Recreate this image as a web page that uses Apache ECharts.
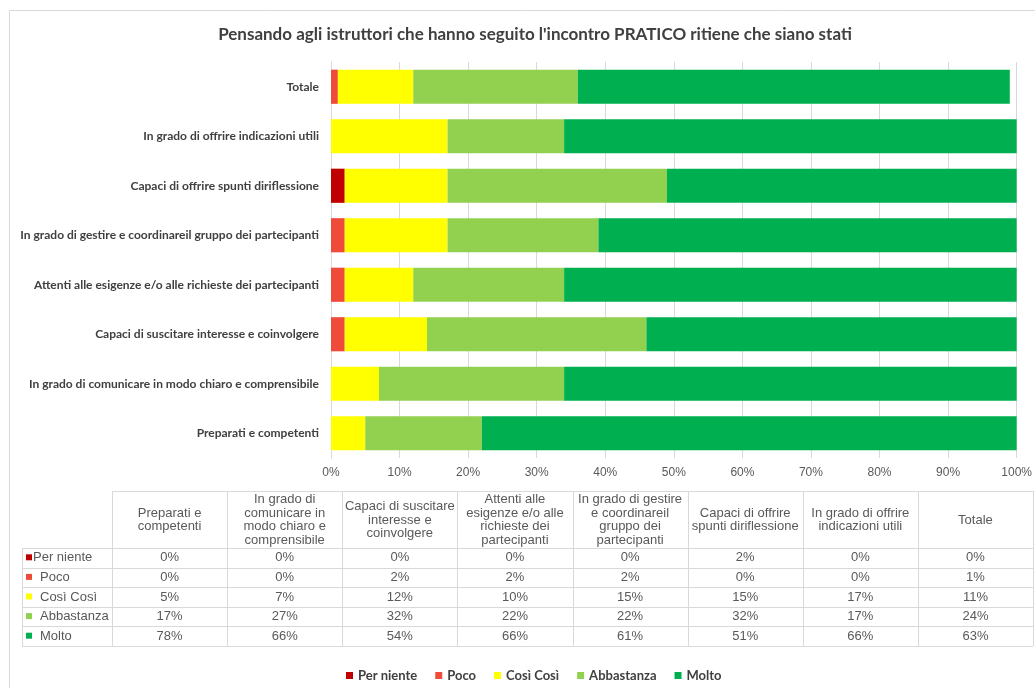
<!DOCTYPE html>
<html>
<head>
<meta charset="utf-8">
<script src="https://cdn.jsdelivr.net/npm/echarts@6/dist/echarts.min.js"></script>
<style>
  html, body { margin: 0; padding: 0; background: #ffffff; }
  #chart { width: 1035px; height: 688px; }
</style>
</head>
<body>
<div id="chart"></div>
<script>
// Categories, bottom to top on the chart, left to right in the table
const categories = [
  'Preparati e competenti',
  'In grado di comunicare in modo chiaro e comprensibile',
  'Capaci di suscitare interesse e coinvolgere',
  'Attenti alle esigenze e/o alle richieste dei partecipanti',
  'In grado di gestire e coordinareil gruppo dei partecipanti',
  'Capaci di offrire spunti diriflessione',
  'In grado di offrire indicazioni utili',
  'Totale'
];
// Wrapped column headings for the data table
const tableHeaders = [
  'Preparati e\ncompetenti',
  'In grado di\ncomunicare in\nmodo chiaro e\ncomprensibile',
  'Capaci di suscitare\ninteresse e\ncoinvolgere',
  'Attenti alle\nesigenze e/o alle\nrichieste dei\npartecipanti',
  'In grado di gestire\ne coordinareil\ngruppo dei\npartecipanti',
  'Capaci di offrire\nspunti diriflessione',
  'In grado di offrire\nindicazioni utili',
  'Totale'
];
const seriesNames = ['Per niente', 'Poco', 'Così Così', 'Abbastanza', 'Molto'];
const perNiente  = [0, 0, 0, 0, 0, 2, 0, 0];
const poco       = [0, 0, 2, 2, 2, 0, 0, 1];
const cosiCosi   = [5, 7, 12, 10, 15, 15, 17, 11];
const abbastanza = [17, 27, 32, 22, 22, 32, 17, 24];
const molto      = [78, 66, 54, 66, 61, 51, 66, 63];
const seriesData = [perNiente, poco, cosiCosi, abbastanza, molto];
const colors = ['#C00000', '#EE4B3B', '#FFFF00', '#92D050', '#00B050'];

const titleText = "Pensando agli istruttori che hanno seguito l'incontro PRATICO ritiene che siano stati";

const chart = echarts.init(document.getElementById('chart'), null, { renderer: 'canvas' });

// --- data table under the chart ---
const tbl = {
  left: 22, labelRight: 112, right: 1033,
  top: 491, headBottom: 548, rowH: 19.6
};
const colW = (tbl.right - tbl.labelRight) / categories.length;
const lineColor = '#D9D9D9';
const textColor = '#595959';
const tableFont = '"Liberation Sans", Arial, sans-serif';
const graphics = [];

// outer frame of the chart area
graphics.push({
  type: 'rect', silent: true,
  shape: { x: 9.5, y: 10.5, width: 1040, height: 700 },
  style: { fill: 'none', stroke: '#D9D9D9', lineWidth: 1 }
});

const tableBottom = tbl.headBottom + tbl.rowH * seriesNames.length;
function hLine(x1, x2, y) {
  graphics.push({ type: 'line', silent: true,
    shape: { x1: x1, y1: Math.round(y) + 0.5, x2: x2, y2: Math.round(y) + 0.5 },
    style: { stroke: lineColor, lineWidth: 1 } });
}
function vLine(x, y1, y2) {
  graphics.push({ type: 'line', silent: true,
    shape: { x1: Math.round(x) + 0.5, y1: y1, x2: Math.round(x) + 0.5, y2: y2 },
    style: { stroke: lineColor, lineWidth: 1 } });
}
hLine(tbl.labelRight, tbl.right, tbl.top);
for (let r = 0; r <= seriesNames.length; r++) {
  hLine(tbl.left, tbl.right, tbl.headBottom + r * tbl.rowH);
}
vLine(tbl.left, tbl.headBottom, tableBottom);
for (let c = 0; c <= categories.length; c++) {
  vLine(tbl.labelRight + c * colW, tbl.top, tableBottom);
}
// column headings
tableHeaders.forEach(function (h, c) {
  graphics.push({
    type: 'text', silent: true,
    x: tbl.labelRight + (c + 0.5) * colW,
    y: (tbl.top + tbl.headBottom) / 2 + 0.5,
    style: {
      text: h, fill: textColor, font: '13px ' + tableFont,
      align: 'center', verticalAlign: 'middle', lineHeight: 13.7
    }
  });
});
// row labels with colour keys, and the values
seriesNames.forEach(function (name, r) {
  const cy = tbl.headBottom + (r + 0.5) * tbl.rowH;
  graphics.push({
    type: 'rect', silent: true,
    shape: { x: 26, y: cy - 3.5, width: 6, height: 6 },
    style: { fill: colors[r] }
  });
  graphics.push({
    type: 'text', silent: true,
    x: r === 0 ? 33 : 40, y: cy,
    style: { text: name, fill: textColor, font: '13px ' + tableFont,
      align: 'left', verticalAlign: 'middle' }
  });
  seriesData[r].forEach(function (v, c) {
    graphics.push({
      type: 'text', silent: true,
      x: tbl.labelRight + (c + 0.5) * colW, y: cy,
      style: { text: v + '%', fill: textColor, font: '13px ' + tableFont,
        align: 'center', verticalAlign: 'middle' }
    });
  });
});

const option = {
  backgroundColor: '#ffffff',
  animation: false,
  title: {
    text: titleText,
    left: 530, top: 21, textAlign: 'center',
    textStyle: { fontFamily: 'Lato, sans-serif', fontSize: 17, fontWeight: 'bold', color: '#404040' }
  },
  legend: {
    data: seriesNames,
    left: 341, top: 664,
    icon: 'rect', itemWidth: 7, itemHeight: 7, itemGap: 18,
    textStyle: { fontFamily: 'Lato, sans-serif', fontSize: 13, fontWeight: 'bold', color: '#404040' }
  },
  grid: { left: 331, right: 17, top: 62, bottom: 230, containLabel: false },
  xAxis: {
    type: 'value', min: 0, max: 100, interval: 10,
    axisLine: { show: false },
    axisTick: { show: false },
    splitLine: { show: true, lineStyle: { color: '#D9D9D9', width: 1 } },
    axisLabel: {
      formatter: '{value}%', margin: 9,
      fontFamily: '"Liberation Sans", Arial, sans-serif', fontSize: 12, color: '#595959'
    }
  },
  yAxis: {
    type: 'category', data: categories,
    axisLine: { show: true, lineStyle: { color: '#D9D9D9' } },
    axisTick: { show: false },
    axisLabel: {
      margin: 12,
      fontFamily: 'Lato, sans-serif', fontSize: 12, fontWeight: 'bold', color: '#404040'
    }
  },
  series: seriesNames.map(function (name, i) {
    return {
      name: name, type: 'bar', stack: 'total',
      data: seriesData[i],
      barCategoryGap: '31%',
      itemStyle: { color: colors[i] },
      emphasis: { disabled: true }
    };
  }),
  graphic: graphics
};
chart.setOption(option);
</script>
</body>
</html>
